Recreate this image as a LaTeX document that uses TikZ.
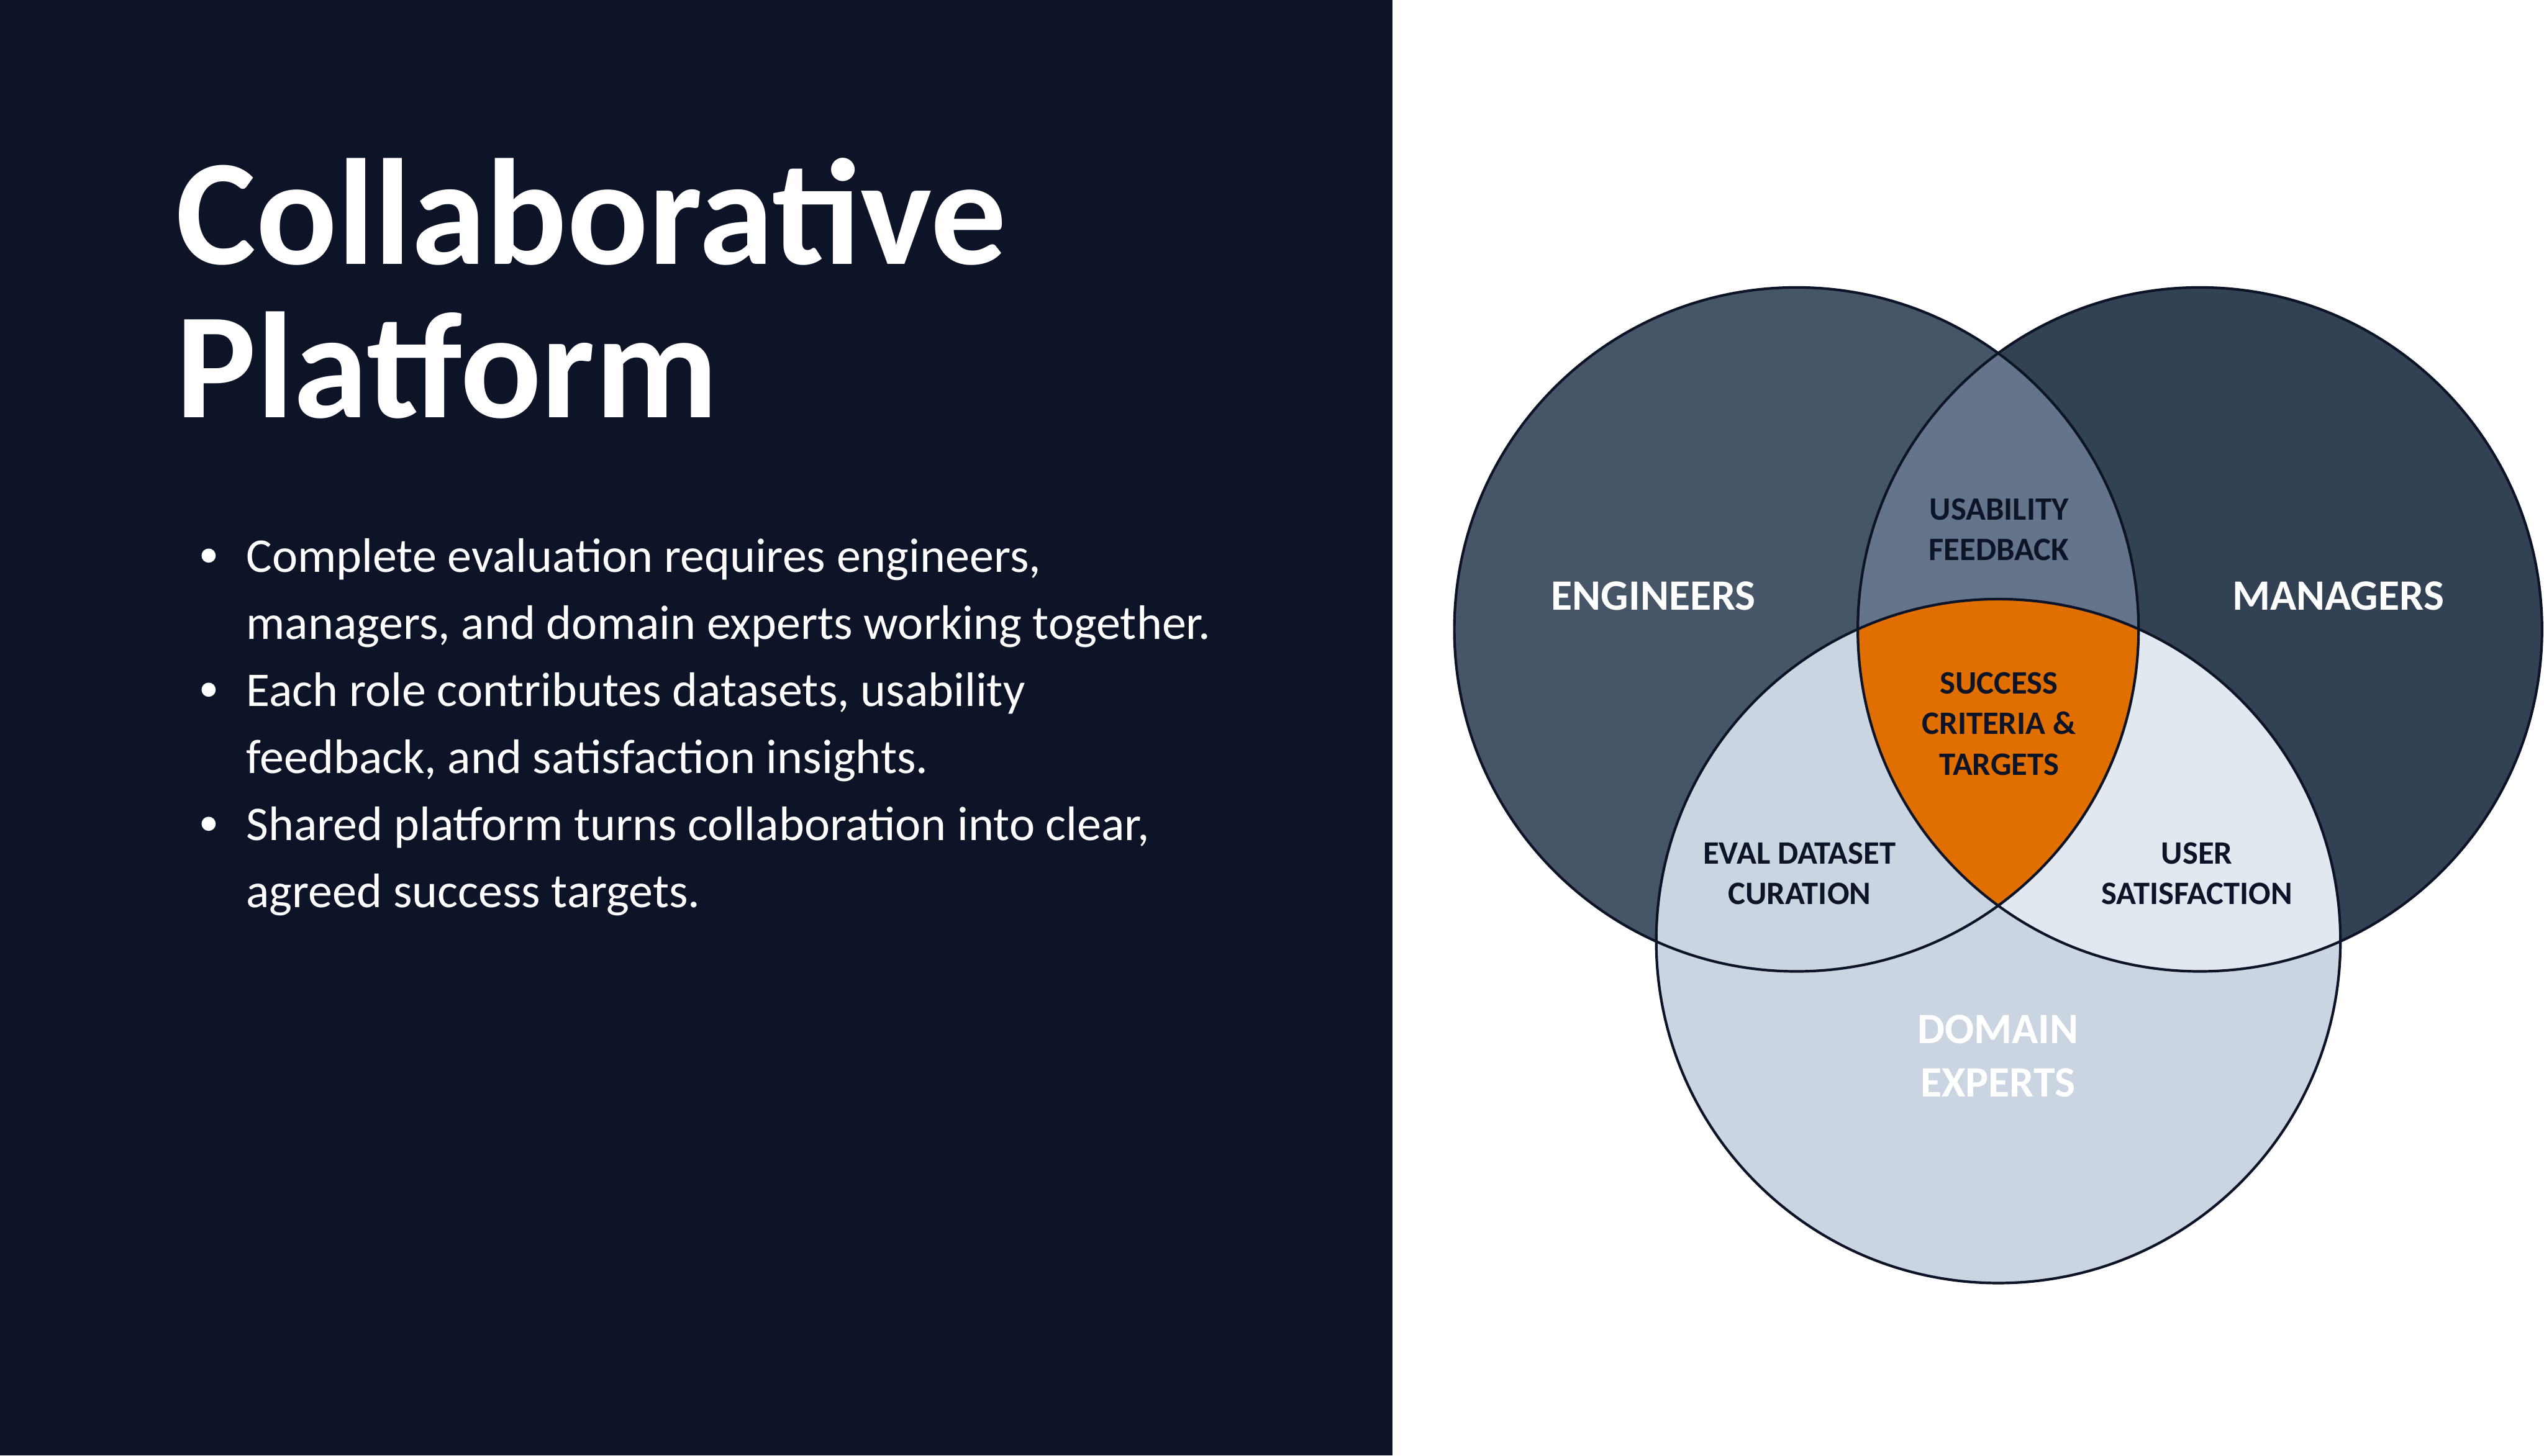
\documentclass[tikz,border=0pt]{standalone}
\usepackage{fontspec}
\setmainfont{Carlito}
\definecolor{bgdark}{HTML}{0E1428}
\definecolor{engc}{HTML}{475569}
\definecolor{manc}{HTML}{334155}
\definecolor{domc}{HTML}{CBD5E1}
\definecolor{emc}{HTML}{64748B}
\definecolor{mdc}{HTML}{E2E8F0}
\definecolor{centc}{HTML}{E06F00}
\definecolor{inkc}{HTML}{0E1428}
\tikzset{
  titletext/.style={anchor=base west, text=white, inner sep=0pt, font=\fontsize{127.5}{132}\selectfont\bfseries},
  bullettext/.style={anchor=base west, text=white, inner sep=0pt, font=\fontsize{40.9}{48}\selectfont},
  bulletdot/.style={circle, fill=white, minimum size=0.42cm, inner sep=0pt},
  biglabel/.style={anchor=base, text=white, inner sep=0pt, font=\fontsize{36.6}{42}\selectfont\bfseries},
  smalllabel/.style={anchor=base, text=inkc, inner sep=0pt, font=\fontsize{27.6}{32}\selectfont\bfseries},
  ring/.style={draw=inkc, line width=2.2pt}
}
\begin{document}
\begin{tikzpicture}
\useasboundingbox (0,0) rectangle (75.48,-43.2);
\fill[white] (0,0) rectangle (75.48,-43.2);
\fill[bgdark] (0,0) rectangle (41.32,-43.2);

% title
\node[titletext] (t1) at (5.22,-7.84) {Collaborative};
\node[titletext] (t2) at (5.22,-12.40) {Platform};

% bullets
\node[bulletdot] (b1) at (6.19,-16.49) {};
\node[bulletdot] (b2) at (6.19,-20.47) {};
\node[bulletdot] (b3) at (6.19,-24.45) {};
\node[bullettext] (l1) at (7.30,-16.99) {Complete evaluation requires engineers,};
\node[bullettext] (l2) at (7.30,-18.98) {managers, and domain experts working together.};
\node[bullettext] (l3) at (7.30,-20.97) {Each role contributes datasets, usability};
\node[bullettext] (l4) at (7.30,-22.96) {feedback, and satisfaction insights.};
\node[bullettext] (l5) at (7.30,-24.95) {Shared platform turns collaboration into clear,};
\node[bullettext] (l6) at (7.30,-26.94) {agreed success targets.};

% venn
\coordinate (E) at (53.30,-18.68);
\coordinate (M) at (65.27,-18.68);
\coordinate (D) at (59.29,-27.93);
\def\rr{10.15}
\fill[engc] (E) circle (\rr);
\fill[manc] (M) circle (\rr);
\fill[domc] (D) circle (\rr);
\begin{scope}
  \clip (E) circle (\rr);
  \fill[emc] (M) circle (\rr);
  \fill[domc] (D) circle (\rr);
\end{scope}
\begin{scope}
  \clip (M) circle (\rr);
  \fill[mdc] (D) circle (\rr);
\end{scope}
\begin{scope}
  \clip (E) circle (\rr);
  \clip (M) circle (\rr);
  \fill[centc] (D) circle (\rr);
\end{scope}
\draw[ring] (E) circle (\rr);
\draw[ring] (M) circle (\rr);
\draw[ring] (D) circle (\rr);

% labels
\node[biglabel] (eng) at (49.06,-18.11) {ENGINEERS};
\node[biglabel] (man) at (69.37,-18.11) {MANAGERS};
\node[biglabel] (dom1) at (59.28,-30.96) {DOMAIN};
\node[biglabel] (dom2) at (59.28,-32.56) {EXPERTS};
\node[smalllabel] (us1) at (59.31,-15.43) {USABILITY};
\node[smalllabel] (us2) at (59.31,-16.63) {FEEDBACK};
\node[smalllabel] (sc1) at (59.31,-20.59) {SUCCESS};
\node[smalllabel] (sc2) at (59.31,-21.79) {CRITERIA \&};
\node[smalllabel] (sc3) at (59.31,-23.00) {TARGETS};
\node[smalllabel] (ev1) at (53.39,-25.64) {EVAL DATASET};
\node[smalllabel] (ev2) at (53.39,-26.84) {CURATION};
\node[smalllabel] (ux1) at (65.18,-25.64) {USER};
\node[smalllabel] (ux2) at (65.18,-26.84) {SATISFACTION};
\end{tikzpicture}
\end{document}
